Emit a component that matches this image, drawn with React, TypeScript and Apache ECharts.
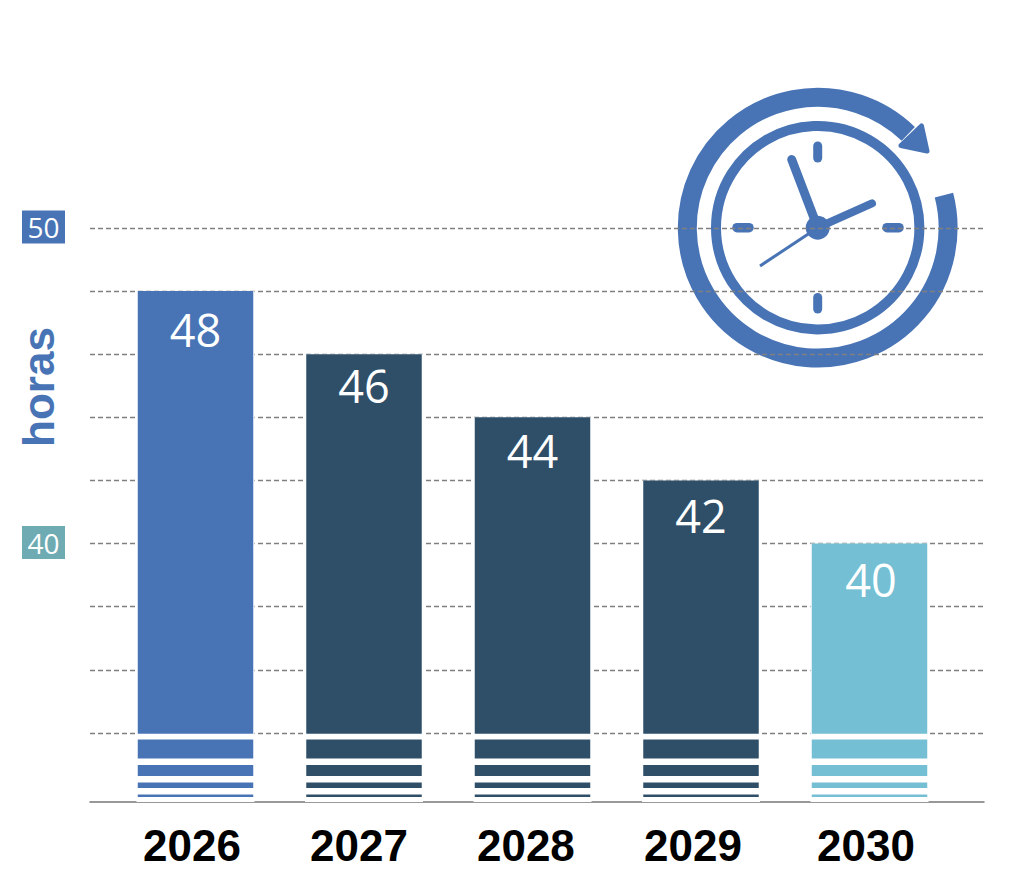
import React, { useEffect, useRef } from "react";
import * as echarts from "echarts";

const years = ["2026", "2027", "2028", "2029", "2030"];
const hours = [48, 46, 44, 42, 40];
const barColors = ["#4874b6", "#2f4f69", "#2f4f69", "#2f4f69", "#74bfd4"];
const gridValues = [34, 36, 38, 40, 42, 44, 46, 48, 50];
const badgeValues = [40, 50];
const yearLabelAt = [2025.979, 2026.97, 2027.961, 2028.953, 2029.98];
const labelDrop = [16, 9, 11, 13, 13];
const labelShift = [0, 0, 0, 0, 1.5];
// The "broken axis" stripes at the foot of the bars: upper edge of each alternating white / empty layer
const stripeEdges = [31.972, 32.051, 32.257, 32.431, 32.637, 32.986, 33.192, 33.794, 33.978];

const BLUE = "#4874b6";
const TEAL = "#6fabb3";
const AXIS_MIN = 31.845;
const X_MIN = 2025.374;
const X_MAX = 2030.68;

const CX = 817.7;
const CY = 227.7;
const hand = (x1: number, y1: number, x2: number, y2: number, w: number) => ({
  type: "line",
  silent: true,
  shape: { x1, y1, x2, y2 },
  style: { stroke: BLUE, lineWidth: w, lineCap: "round" },
});

const clock = [
  {
    type: "arc",
    silent: true,
    shape: {
      cx: CX,
      cy: CY,
      r: 130.4,
      startAngle: (-14.5 * Math.PI) / 180,
      endAngle: (-46 * Math.PI) / 180,
      clockwise: true,
    },
    style: { stroke: BLUE, lineWidth: 19, fill: "none" },
  },
  {
    type: "polygon",
    silent: true,
    shape: { points: [[921.5, 126], [927, 151], [901, 145.5]] },
    style: { fill: BLUE, stroke: BLUE, lineWidth: 5, lineJoin: "round" },
  },
  {
    type: "circle",
    silent: true,
    shape: { cx: CX, cy: CY, r: 101.7 },
    style: { fill: "none", stroke: BLUE, lineWidth: 10 },
  },
  hand(CX, 146, CX, 158, 9),
  hand(CX, 297.5, CX, 309, 9),
  hand(737, CY, 749, CY, 9.5),
  hand(887, CY, 899, CY, 9.5),
  hand(791.7, 159.5, CX, CY, 9),
  hand(CX, CY, 872, 203.3, 8),
  { ...hand(CX, CY, 760, 266, 3), style: { stroke: BLUE, lineWidth: 3, lineCap: "butt" } },
  {
    type: "circle",
    silent: true,
    shape: { cx: CX, cy: CY, r: 12 },
    style: { fill: BLUE },
  },
  {
    type: "text",
    silent: true,
    x: 38,
    y: 387,
    rotation: Math.PI / 2,
    style: {
      text: "horas",
      fill: BLUE,
      font: "bold 44px 'Liberation Sans', Arial, sans-serif",
      textAlign: "center",
      textVerticalAlign: "middle",
    },
  },
];

const badge = (bg: string) => ({
  backgroundColor: bg,
  color: "#ffffff",
  width: 43,
  height: 33,
  lineHeight: 33,
  align: "center",
  fontFamily: "'Open Sans', sans-serif",
  fontSize: 28,
});

export default function App() {
  const ref = useRef<HTMLDivElement>(null);

  useEffect(() => {
    document.body.style.margin = "0";
    const chart = echarts.init(ref.current!, undefined, { renderer: "svg" });

    const hiddenCategory = { type: "category", gridIndex: 1, data: years, show: false };

    let previous = 0;
    const stripes = stripeEdges.map((edge, n) => {
      const height = edge - previous;
      previous = edge;
      return {
        type: "bar",
        name: `stripe${n}`,
        xAxisIndex: 2,
        yAxisIndex: 1,
        stack: "stripes",
        barWidth: 118,
        barGap: "-100%",
        z: 4,
        silent: true,
        itemStyle: { color: n % 2 === 0 ? "#ffffff" : "transparent" },
        data: years.map(() => height),
      };
    });

    chart.setOption({
      animation: false,
      grid: [
        { left: 90, right: 40, top: 228, bottom: 93 },
        { left: 111.25, right: 70.25, top: 228, bottom: 93 },
      ],
      xAxis: [
        {
          type: "value",
          gridIndex: 0,
          min: X_MIN,
          max: X_MAX,
          offset: 1,
          splitLine: { show: false },
          axisTick: { show: false },
          axisLine: { show: true, lineStyle: { color: "#777777", width: 1.5 } },
          axisLabel: {
            customValues: yearLabelAt,
            formatter: (v: number) => String(Math.round(v)),
            margin: 21,
            color: "#000000",
            fontFamily: "'Liberation Sans', Arial, sans-serif",
            fontWeight: "bold",
            fontSize: 44,
            hideOverlap: false,
          },
        },
        hiddenCategory,
        hiddenCategory,
      ],
      yAxis: [
        {
          type: "value",
          gridIndex: 0,
          min: AXIS_MIN,
          max: 50,
          axisLine: { show: false },
          axisTick: { show: false, customValues: gridValues },
          splitLine: {
            show: true,
            lineStyle: { color: "#7f7f7f", type: [5, 3], width: 1.3 },
          },
          axisLabel: {
            customValues: badgeValues,
            margin: 25,
            padding: [0, 0, 2, 0],
            formatter: (v: number) => (v === 50 ? `{a|${v}}` : `{b|${v}}`),
            rich: { a: badge(BLUE), b: badge(TEAL) },
          },
        },
        { type: "value", gridIndex: 1, min: AXIS_MIN, max: 50, show: false },
      ],
      graphic: clock,
      series: [
        {
          type: "bar",
          name: "halo",
          xAxisIndex: 2,
          yAxisIndex: 1,
          barWidth: 118,
          barGap: "-100%",
          z: 2,
          silent: true,
          itemStyle: { color: "#ffffff", borderColor: "#ffffff", borderWidth: 2 },
          data: hours,
        },
        {
          type: "bar",
          name: "horas",
          xAxisIndex: 1,
          yAxisIndex: 1,
          barWidth: 115.5,
          z: 3,
          data: hours.map((h, i) => ({
            value: h,
            itemStyle: { color: barColors[i] },
            label: {
              show: true,
              position: "insideTop",
              distance: labelDrop[i],
              offset: [labelShift[i], 0],
              color: "#ffffff",
              fontFamily: "'Open Sans', sans-serif",
              fontSize: 45,
              formatter: String(h),
            },
          })),
        },
        ...stripes,
      ],
    });

    return () => chart.dispose();
  }, []);

  return (
    <div
      ref={ref}
      style={{ position: "absolute", left: 0, top: 0, width: 1024, height: 894, background: "#ffffff" }}
    />
  );
}
